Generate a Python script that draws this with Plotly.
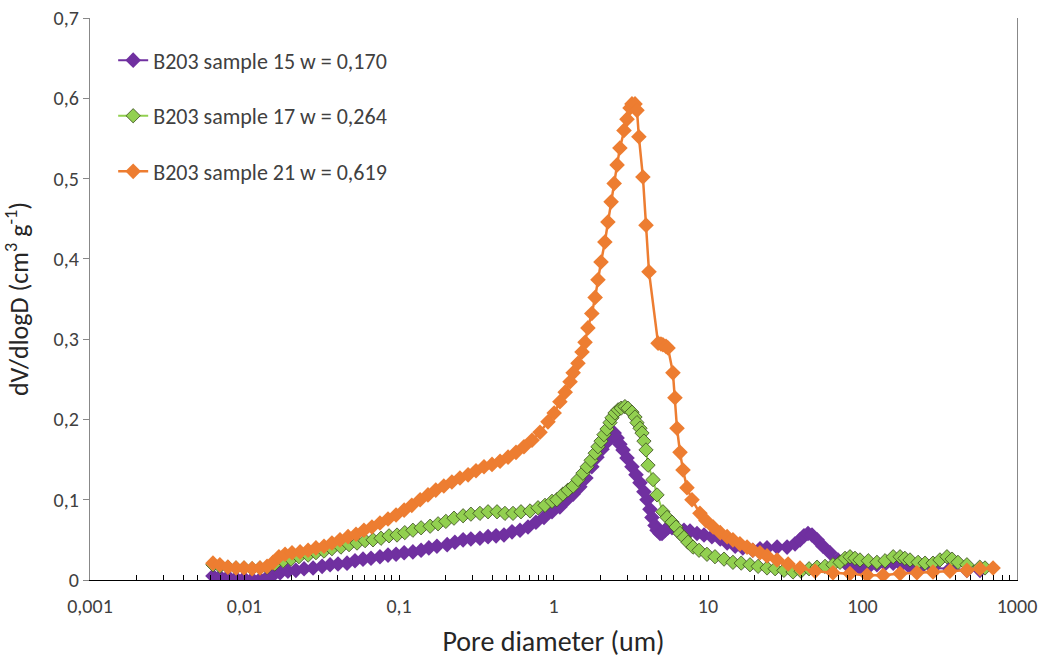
import plotly.graph_objects as go

# ---- data (pore diameter in um, dV/dlogD in cm3/g) ----
s15_d = [0.00625, 0.00693, 0.00781, 0.00881, 0.00993, 0.0112, 0.0126, 0.0140, 0.0153, 0.0170,
         0.0191, 0.0215, 0.0243, 0.0278, 0.0318, 0.0358, 0.0403, 0.0461, 0.0519, 0.0585,
         0.0659, 0.0753, 0.0849, 0.0957, 0.108, 0.123, 0.139, 0.156, 0.176, 0.205,
         0.230, 0.260, 0.292, 0.334, 0.377, 0.425, 0.478, 0.539, 0.607, 0.684,
         0.770, 0.868, 0.978, 1.10, 1.22, 1.34, 1.48, 1.62, 1.77, 1.91,
         2.06, 2.22, 2.39, 2.47, 2.58, 2.69, 2.82, 2.99, 3.22, 3.42,
         3.63, 3.85, 4.03, 4.21, 4.34, 4.54, 4.68, 4.89, 5.04, 5.27,
         5.51, 5.85, 6.30, 6.99, 7.65, 8.49, 9.42, 10.6, 12.0, 13.3,
         15.0, 16.8, 19.5, 21.7, 24.1, 28.0, 32.5, 36.6, 39.4, 41.8,
         44.4, 47.1, 50.8, 55.5, 61.6, 69.4, 79.4, 88.1, 96.3, 109,
         124, 140, 158, 178, 203, 236, 286, 368, 474, 576]
s15_v = [0.005, 0.004, 0.004, 0.002, 0.002, 0.001, 0.001, 0.003, 0.006, 0.009,
         0.011, 0.012, 0.014, 0.015, 0.017, 0.019, 0.020, 0.021, 0.024, 0.026,
         0.027, 0.029, 0.031, 0.032, 0.034, 0.035, 0.037, 0.040, 0.042, 0.044,
         0.047, 0.050, 0.051, 0.052, 0.054, 0.055, 0.056, 0.060, 0.062, 0.066,
         0.072, 0.078, 0.085, 0.091, 0.100, 0.107, 0.116, 0.127, 0.141, 0.153,
         0.163, 0.172, 0.181, 0.183, 0.177, 0.169, 0.162, 0.152, 0.141, 0.131,
         0.121, 0.110, 0.100, 0.088, 0.078, 0.068, 0.062, 0.058, 0.058, 0.062,
         0.065, 0.065, 0.062, 0.062, 0.061, 0.058, 0.056, 0.054, 0.051, 0.046,
         0.042, 0.040, 0.037, 0.039, 0.040, 0.041, 0.041, 0.045, 0.050, 0.055,
         0.058, 0.056, 0.050, 0.042, 0.034, 0.025, 0.019, 0.016, 0.015, 0.016,
         0.019, 0.020, 0.021, 0.019, 0.016, 0.015, 0.015, 0.014, 0.012, 0.012]

s17_d = [0.00625, 0.00693, 0.00781, 0.00881, 0.00993, 0.0112, 0.0126, 0.0140, 0.0157, 0.0178,
         0.0200, 0.0225, 0.0258, 0.0290, 0.0327, 0.0368, 0.0421, 0.0475, 0.0535, 0.0603,
         0.0679, 0.0765, 0.0862, 0.0971, 0.109, 0.123, 0.139, 0.159, 0.179, 0.201,
         0.227, 0.260, 0.292, 0.334, 0.377, 0.431, 0.485, 0.547, 0.616, 0.705,
         0.794, 0.881, 0.978, 1.05, 1.15, 1.24, 1.34, 1.44, 1.55, 1.65,
         1.75, 1.86, 1.94, 2.03, 2.12, 2.22, 2.32, 2.39, 2.50, 2.62,
         2.74, 2.90, 3.03, 3.22, 3.37, 3.47, 3.63, 3.74, 3.85, 3.97,
         4.09, 4.41, 4.68, 5.11, 5.43, 5.85, 6.21, 6.59, 6.99, 7.42,
         8.00, 8.75, 9.85, 11.1, 12.7, 14.5, 16.4, 18.7, 21.1, 24.1,
         27.2, 31.0, 35.5, 40.0, 45.1, 50.8, 57.2, 64.4, 71.5, 77.1,
         83.0, 89.4, 96.3, 109, 124, 140, 158, 175, 188, 203,
         229, 254, 286, 317, 352, 380, 415, 474, 574, 621]
s17_v = [0.019, 0.017, 0.016, 0.015, 0.015, 0.014, 0.015, 0.016, 0.020, 0.024,
         0.026, 0.029, 0.031, 0.034, 0.036, 0.039, 0.041, 0.044, 0.046, 0.049,
         0.050, 0.052, 0.055, 0.056, 0.059, 0.062, 0.065, 0.067, 0.070, 0.073,
         0.077, 0.080, 0.082, 0.083, 0.085, 0.085, 0.083, 0.083, 0.085, 0.086,
         0.090, 0.093, 0.098, 0.100, 0.107, 0.112, 0.117, 0.125, 0.133, 0.141,
         0.149, 0.158, 0.166, 0.173, 0.181, 0.188, 0.196, 0.202, 0.208, 0.212,
         0.214, 0.216, 0.214, 0.209, 0.203, 0.196, 0.189, 0.183, 0.173, 0.162,
         0.143, 0.125, 0.106, 0.085, 0.078, 0.072, 0.066, 0.058, 0.053, 0.047,
         0.041, 0.037, 0.032, 0.029, 0.026, 0.022, 0.021, 0.019, 0.017, 0.015,
         0.014, 0.012, 0.010, 0.011, 0.014, 0.016, 0.017, 0.019, 0.022, 0.027,
         0.029, 0.027, 0.025, 0.024, 0.022, 0.024, 0.029, 0.029, 0.027, 0.025,
         0.022, 0.021, 0.021, 0.025, 0.029, 0.026, 0.022, 0.019, 0.016, 0.015]

s21_d = [0.00625, 0.00693, 0.00781, 0.00881, 0.00993, 0.0112, 0.0126, 0.0140, 0.0153, 0.0167,
         0.0183, 0.0203, 0.0229, 0.0258, 0.0290, 0.0327, 0.0368, 0.0415, 0.0468, 0.0527,
         0.0593, 0.0668, 0.0753, 0.0849, 0.0957, 0.108, 0.121, 0.137, 0.154, 0.173,
         0.195, 0.220, 0.248, 0.280, 0.315, 0.355, 0.400, 0.451, 0.508, 0.572,
         0.644, 0.726, 0.818, 0.921, 1.01, 1.10, 1.19, 1.28, 1.34, 1.44,
         1.53, 1.60, 1.67, 1.77, 1.86, 1.94, 2.03, 2.15, 2.25, 2.36,
         2.47, 2.58, 2.69, 2.86, 2.99, 3.13, 3.22, 3.37, 3.47, 3.57,
         3.79, 3.97, 4.15, 4.75, 4.96, 5.11, 5.35, 5.51, 5.93, 6.11,
         6.30, 6.59, 6.89, 7.31, 7.88, 8.87, 9.70, 10.8, 12.0, 13.3,
         14.5, 16.1, 17.9, 19.5, 21.7, 24.1, 28.0, 33.0, 39.4, 49.3,
         64.4, 83.0, 107, 136, 175, 225, 286, 368, 474, 576, 700]
s21_v = [0.021, 0.019, 0.016, 0.015, 0.015, 0.014, 0.015, 0.017, 0.022, 0.029,
         0.032, 0.034, 0.035, 0.037, 0.040, 0.042, 0.046, 0.050, 0.054, 0.057,
         0.062, 0.066, 0.071, 0.076, 0.081, 0.087, 0.093, 0.100, 0.106, 0.112,
         0.117, 0.122, 0.127, 0.131, 0.136, 0.141, 0.144, 0.148, 0.153, 0.159,
         0.166, 0.174, 0.184, 0.197, 0.208, 0.222, 0.234, 0.247, 0.258, 0.270,
         0.284, 0.296, 0.314, 0.332, 0.352, 0.374, 0.396, 0.421, 0.446, 0.471,
         0.494, 0.517, 0.538, 0.560, 0.574, 0.588, 0.593, 0.593, 0.585, 0.552,
         0.502, 0.442, 0.384, 0.295, 0.294, 0.293, 0.291, 0.289, 0.258, 0.227,
         0.189, 0.159, 0.137, 0.115, 0.100, 0.083, 0.074, 0.066, 0.059, 0.054,
         0.050, 0.045, 0.041, 0.037, 0.034, 0.030, 0.025, 0.020, 0.015, 0.011,
         0.009, 0.008, 0.006, 0.006, 0.008, 0.009, 0.010, 0.011, 0.012, 0.014, 0.015]

names = ["B203 sample 15 w = 0,170", "B203 sample 17 w = 0,264", "B203 sample 21 w = 0,619"]
xtick_vals = [0.001, 0.01, 0.1, 1, 10, 100, 1000]
xtick_text = ["0,001", "0,01", "0,1", "1", "10", "100", "1000"]
ytick_vals = [0, 0.1, 0.2, 0.3, 0.4, 0.5, 0.6, 0.7]
ytick_text = ["0", "0,1", "0,2", "0,3", "0,4", "0,5", "0,6", "0,7"]

FONT = "Carlito, Lato, 'Open Sans', sans-serif"
TXT = "#404040"

fig = go.Figure()
fig.add_trace(go.Scatter(
    x=s15_d, y=s15_v, mode="lines+markers", name=names[0], legendgroup="a",
    line=dict(color="#7030A0", width=2),
    marker=dict(symbol="diamond", size=12, color="#7030A0", line=dict(width=0))))
fig.add_trace(go.Scatter(
    x=s17_d, y=s17_v, mode="lines+markers", name=names[1], legendgroup="b",
    line=dict(color="#92D050", width=2),
    marker=dict(symbol="diamond", size=11, color="#92D050", line=dict(width=0.8, color="#3a4a20"))))
fig.add_trace(go.Scatter(
    x=s21_d, y=s21_v, mode="lines+markers", name=names[2], legendgroup="c",
    line=dict(color="#ED7D31", width=2.5),
    marker=dict(symbol="diamond", size=12, color="#ED7D31", line=dict(width=0))))

fig.update_layout(
    width=1047, height=661,
    margin=dict(l=90, r=30, t=18, b=81, autoexpand=False),
    paper_bgcolor="white", plot_bgcolor="white",
    font=dict(family=FONT, size=20, color=TXT),
    showlegend=True,
    legend=dict(x=0.025, y=0.962, xanchor="left", yanchor="top",
                bgcolor="rgba(0,0,0,0)", font=dict(size=22, color=TXT),
                tracegroupgap=24, itemwidth=30),
)
fig.update_xaxes(
    type="log", range=[-3, 3], automargin=False,
    tickvals=xtick_vals, ticktext=xtick_text,
    ticks="inside", ticklen=5, tickcolor="#000000",
    minor=dict(ticks="inside", ticklen=5, tickcolor="#000000", dtick="D1", showgrid=False),
    showline=True, linecolor="#000000", linewidth=1.3,
    showgrid=False, zeroline=False, ticklabelstandoff=8,
    tickfont=dict(size=20, color=TXT),
    title=dict(text="Pore diameter (um)", font=dict(size=28, color="#262626"), standoff=14),
)
fig.update_yaxes(
    range=[0, 0.7], automargin=False,
    tickvals=ytick_vals, ticktext=ytick_text, ticklabeloverflow="allow",
    ticks="outside", ticklen=6, tickcolor="#888888",
    showline=True, linecolor="#888888", linewidth=1.3, mirror=True,
    showgrid=False, zeroline=False,
    tickfont=dict(size=20, color=TXT),
    title=dict(text="dV/dlogD (cm<sup>3</sup> g<sup>-1</sup>)", font=dict(size=26, color="#262626"), standoff=20),
)

fig.write_html("out.html", config={"displayModeBar": False},
               post_script="document.body.style.margin='0';")
